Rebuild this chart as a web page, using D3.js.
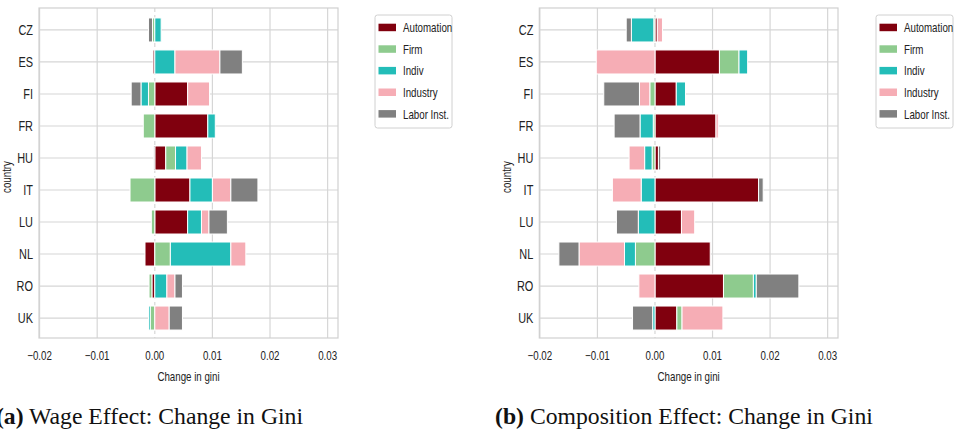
<!DOCTYPE html>
<html><head><meta charset="utf-8">
<script src="https://cdn.jsdelivr.net/npm/d3@7"></script>
<style>
body{margin:0;background:#fff;}
svg{display:block;}
</style></head>
<body>
<svg id="c" width="960" height="432"></svg>
<script>
const countries = ["CZ","ES","FI","FR","HU","IT","LU","NL","RO","UK"];
const seriesNames = ["Automation","Firm","Indiv","Industry","Labor Inst."];
const seriesColors = ["#80000e","#8ecb8e","#23bdb8","#f6adb5","#808080"];
const xTicks = [-0.02,-0.01,0.00,0.01,0.02,0.03];
const xTickLabels = ["\u22120.02","\u22120.01","0.00","0.01","0.02","0.03"];

// Wage effect (a)
const wageAutomation = [0.0000,-0.0003,0.0057,0.0092,0.0019,0.0061,0.0057,-0.0017,-0.0005,0.0000];
const wageFirm       = [-0.0004,0.0000,-0.0011,-0.0020,0.0017,-0.0043,-0.0006,0.0027,-0.0005,-0.0008];
const wageIndiv      = [0.0011,0.0035,-0.0013,0.0013,0.0020,0.0039,0.0024,0.0105,0.0021,-0.0003];
const wageIndustry   = [0.0000,0.0078,0.0038,0.0000,0.0025,0.0032,0.0013,0.0026,0.0014,0.0025];
const wageLabor      = [-0.0007,0.0039,-0.0017,0.0000,-0.0002,0.0047,0.0032,0.0000,0.0013,0.0023];

// Composition effect (b)
const compAutomation = [0.0004,0.0112,0.0037,0.0106,0.0006,0.0180,0.0046,0.0096,0.0119,0.0038];
const compFirm       = [-0.0002,0.0034,-0.0009,-0.0003,-0.0005,0.0000,0.0000,-0.0034,0.0052,0.0009];
const compIndiv      = [-0.0039,0.0015,0.0016,-0.0023,-0.0013,-0.0024,-0.0029,-0.0019,0.0005,-0.0004];
const compIndustry   = [0.0009,-0.0102,-0.0018,0.0004,-0.0027,-0.0050,0.0023,-0.0079,-0.0028,0.0071];
const compLabor      = [-0.0009,0.0000,-0.0062,-0.0045,0.0004,0.0008,-0.0038,-0.0035,0.0074,-0.0035];

const wageSeries = [wageAutomation,wageFirm,wageIndiv,wageIndustry,wageLabor];
const compSeries = [compAutomation,compFirm,compIndiv,compIndustry,compLabor];

const svg = d3.select("#c");
const tickFont = "'Liberation Sans',Arial,sans-serif";
const SX = 0.78; // condensed look

function ctext(parent, x, y, str, size, anchor, rotate) {
  const t = parent.append("text")
    .attr("transform", `translate(${x},${y})${rotate ? " rotate(-90)" : ""} scale(${SX},1)`)
    .attr("text-anchor", anchor).attr("font-family", tickFont).attr("font-size", size).attr("fill", "#222")
    .text(str);
  return t;
}

function panel(x0, x1, series, legendX) {
  const top = 8, bottom = 338;
  const x = d3.scaleLinear().domain([-0.0201, 0.0318]).range([x0, x1]);
  const y = d3.scaleBand().domain(countries).range([top+1, bottom+1]).paddingInner(0.25).paddingOuter(0.28);
  const g = svg.append("g");
  g.selectAll("line.vg").data(xTicks).join("line")
    .attr("x1", d => x(d)).attr("x2", d => x(d)).attr("y1", top).attr("y2", bottom)
    .attr("stroke", "#d6d6d6").attr("stroke-width", 1.2)
    .attr("stroke-dasharray", d => d === 0 ? "4,3" : null);
  g.selectAll("line.hg").data(countries).join("line")
    .attr("x1", x0).attr("x2", x1)
    .attr("y1", d => y(d) + y.bandwidth()/2).attr("y2", d => y(d) + y.bandwidth()/2)
    .attr("stroke", "#d6d6d6").attr("stroke-width", 1.2);
  const rects = [];
  countries.forEach((c, i) => {
    let pos = 0, neg = 0;
    series.forEach((s, k) => {
      const v = s[i];
      if (v >= 0) { rects.push({c, k, a: pos, b: pos + v}); pos += v; }
      else { rects.push({c, k, a: neg + v, b: neg}); neg += v; }
    });
  });
  g.selectAll("rect.bar").data(rects.filter(r => r.b - r.a > 0)).join("rect")
    .attr("x", r => x(r.a)).attr("width", r => x(r.b) - x(r.a))
    .attr("y", r => y(r.c)).attr("height", y.bandwidth())
    .attr("fill", r => seriesColors[r.k])
    .attr("stroke", "#fff").attr("stroke-width", 1);
  g.append("rect").attr("x", x0).attr("y", top).attr("width", x1 - x0).attr("height", bottom - top)
    .attr("fill", "none").attr("stroke", "#d0d0d0").attr("stroke-width", 1.2);
  xTicks.forEach((d, i) => ctext(g, x(d), 360, xTickLabels[i], 12.5, "middle"));
  countries.forEach(d => ctext(g, x0 - 6, y(d) + y.bandwidth()/2 + 5, d, 14, "end"));
  ctext(g, (x0 + x1)/2, 381, "Change in gini", 12.5, "middle");
  ctext(g, x0 - 28, (top+bottom)/2 + 4, "country", 12.5, "middle", true);
  const lg = g.append("g");
  lg.append("rect").attr("x", legendX).attr("y", 15).attr("width", 77).attr("height", 113).attr("rx", 2.5)
    .attr("fill", "#fff").attr("stroke", "#d0d0d0").attr("stroke-width", 1);
  seriesNames.forEach((n, k) => {
    const cy = 27.7 + k * 21.6;
    lg.append("rect").attr("x", legendX + 3.5).attr("y", cy - 4).attr("width", 17.5).attr("height", 7.5).attr("fill", seriesColors[k]);
    ctext(lg, legendX + 28, cy + 4.5, n, 12.5, "start");
  });
}

panel(39, 338, wageSeries, 375);
panel(539.3, 838, compSeries, 876);

// captions
function caption(x, anchor, label, str, width) {
  const t = svg.append("text").attr("x", x).attr("y", 424).attr("text-anchor", anchor)
    .attr("font-family", "'Liberation Serif','DejaVu Serif',serif").attr("font-size", 19).attr("fill", "#111");
  t.append("tspan").attr("font-weight", "bold").text(label);
  t.append("tspan").text(" " + str);
  return t;
}
const capB = caption(495, "start", "(b)", "Composition Effect: Change in Gini");
const nat = capB.node().getComputedTextLength();
const fs = 19 * 378 / nat;
capB.attr("font-size", fs);
const capA = caption(303, "end", "(a)", "Wage Effect: Change in Gini");
capA.attr("font-size", fs);
</script>
</body></html>
